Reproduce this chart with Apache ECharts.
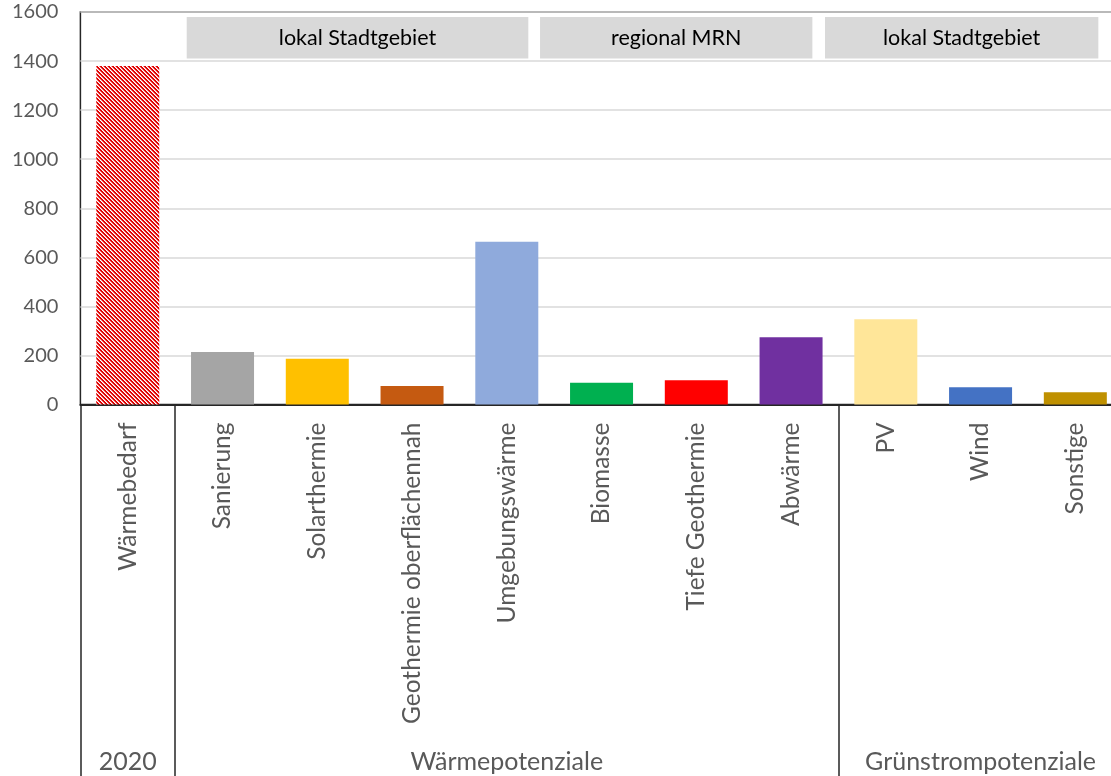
<!DOCTYPE html>
<html>
<head>
<meta charset="utf-8">
<script src="https://cdn.jsdelivr.net/npm/echarts@6/dist/echarts.min.js"></script>
<style>
html,body{margin:0;padding:0;background:#fff;}
#chart{width:1111px;height:776px;}
</style>
</head>
<body>
<div id="chart"></div>
<script>
// ---- data ----
var categories = ['Wärmebedarf','Sanierung','Solarthermie','Geothermie oberflächennah','Umgebungswärme','Biomasse','Tiefe Geothermie','Abwärme','PV','Wind','Sonstige'];
var values = [1380, 214, 186, 75, 663, 89, 99, 274, 348, 70, 50];
var barColors = [null,'#a5a5a5','#ffc000','#c55a11','#8faadc','#00b050','#ff0000','#7030a0','#ffe699','#4472c4','#bf9000'];
var groupLabels = ['2020','','','','Wärmepotenziale','','','','','Grünstrompotenziale',''];
var groupBoundaries = [0, 1, 8];
var headerLabels = ['lokal Stadtgebiet','regional MRN','lokal Stadtgebiet'];
var headerFrom = [1.122, 4.851, 7.858];
var headerTo = [4.727, 7.725, 10.743];
var headerBottom = 1410, headerTop = 1580;

// hatch pattern for Wärmebedarf
var pc = document.createElement('canvas');
pc.width = 4; pc.height = 4;
var pctx = pc.getContext('2d');
pctx.fillStyle = '#e00000';
pctx.fillRect(0,0,4,4);
pctx.fillStyle = '#ffffff';
for (var i = 0; i < 4; i++) {
  pctx.fillRect(i, i, 1, 1);
}
pctx.fillStyle = '#f4a0a0';
for (var j = 0; j < 4; j++) {
  pctx.fillRect((j+1)%4, j, 1, 1);
}

var barData = values.map(function(v, i){
  return {value: v, itemStyle: {color: i === 0 ? {image: pc, repeat: 'repeat'} : barColors[i]}};
});

var markData = headerLabels.map(function(l, i){
  return [{name: l, xAxis: headerFrom[i], yAxis: headerBottom}, {xAxis: headerTo[i], yAxis: headerTop}];
});

var FONT = 'Lato';
var chart = echarts.init(document.getElementById('chart'), null, {renderer: 'canvas'});
chart.setOption({
  animation: false,
  textStyle: {fontFamily: FONT},
  grid: {left: 80.4, top: 12, width: 1042.3, bottom: 371.5, outerBoundsMode: 'none', containLabel: false,
         show: true, borderColor: '#262626', borderWidth: 1.5, backgroundColor: 'transparent'},
  xAxis: [{
    type: 'category', data: categories, position: 'bottom',
    axisLine: {show: true, lineStyle: {color: '#262626', width: 2}},
    axisTick: {show: true, length: 372, interval: function(idx){ return groupBoundaries.indexOf(idx) >= 0; }, lineStyle: {color: '#262626', width: 1.5}},
    axisLabel: {rotate: 90, margin: 18, fontSize: 24.5, color: '#595959', fontFamily: FONT, interval: 0}
  }, {
    type: 'category', data: groupLabels, position: 'bottom', gridIndex: 0,
    axisLine: {show: false}, axisTick: {show: false},
    axisLabel: {margin: 345, fontSize: 25, color: '#595959', fontFamily: FONT, interval: 0}
  }, {
    type: 'value', min: 0, max: 11, position: 'top', show: false, gridIndex: 0
  }],
  yAxis: {
    type: 'value', min: 0, max: 1600, interval: 200,
    axisLine: {show: false}, axisTick: {show: false},
    splitLine: {lineStyle: {color: '#d9d9d9', width: 1.5}},
    axisLabel: {margin: 22, fontSize: 20, color: '#595959', fontFamily: FONT, formatter: function(v){ return String(v); }}
  },
  series: [{
    type: 'bar', xAxisIndex: 0, data: barData, barWidth: 63
  }, {
    type: 'line', xAxisIndex: 2, data: [], silent: true,
    markArea: {
      silent: true,
      itemStyle: {color: '#d9d9d9'},
      label: {show: true, position: 'inside', color: '#000', fontSize: 21.5, fontFamily: FONT},
      data: markData
    }
  }]
});
</script>
</body>
</html>
